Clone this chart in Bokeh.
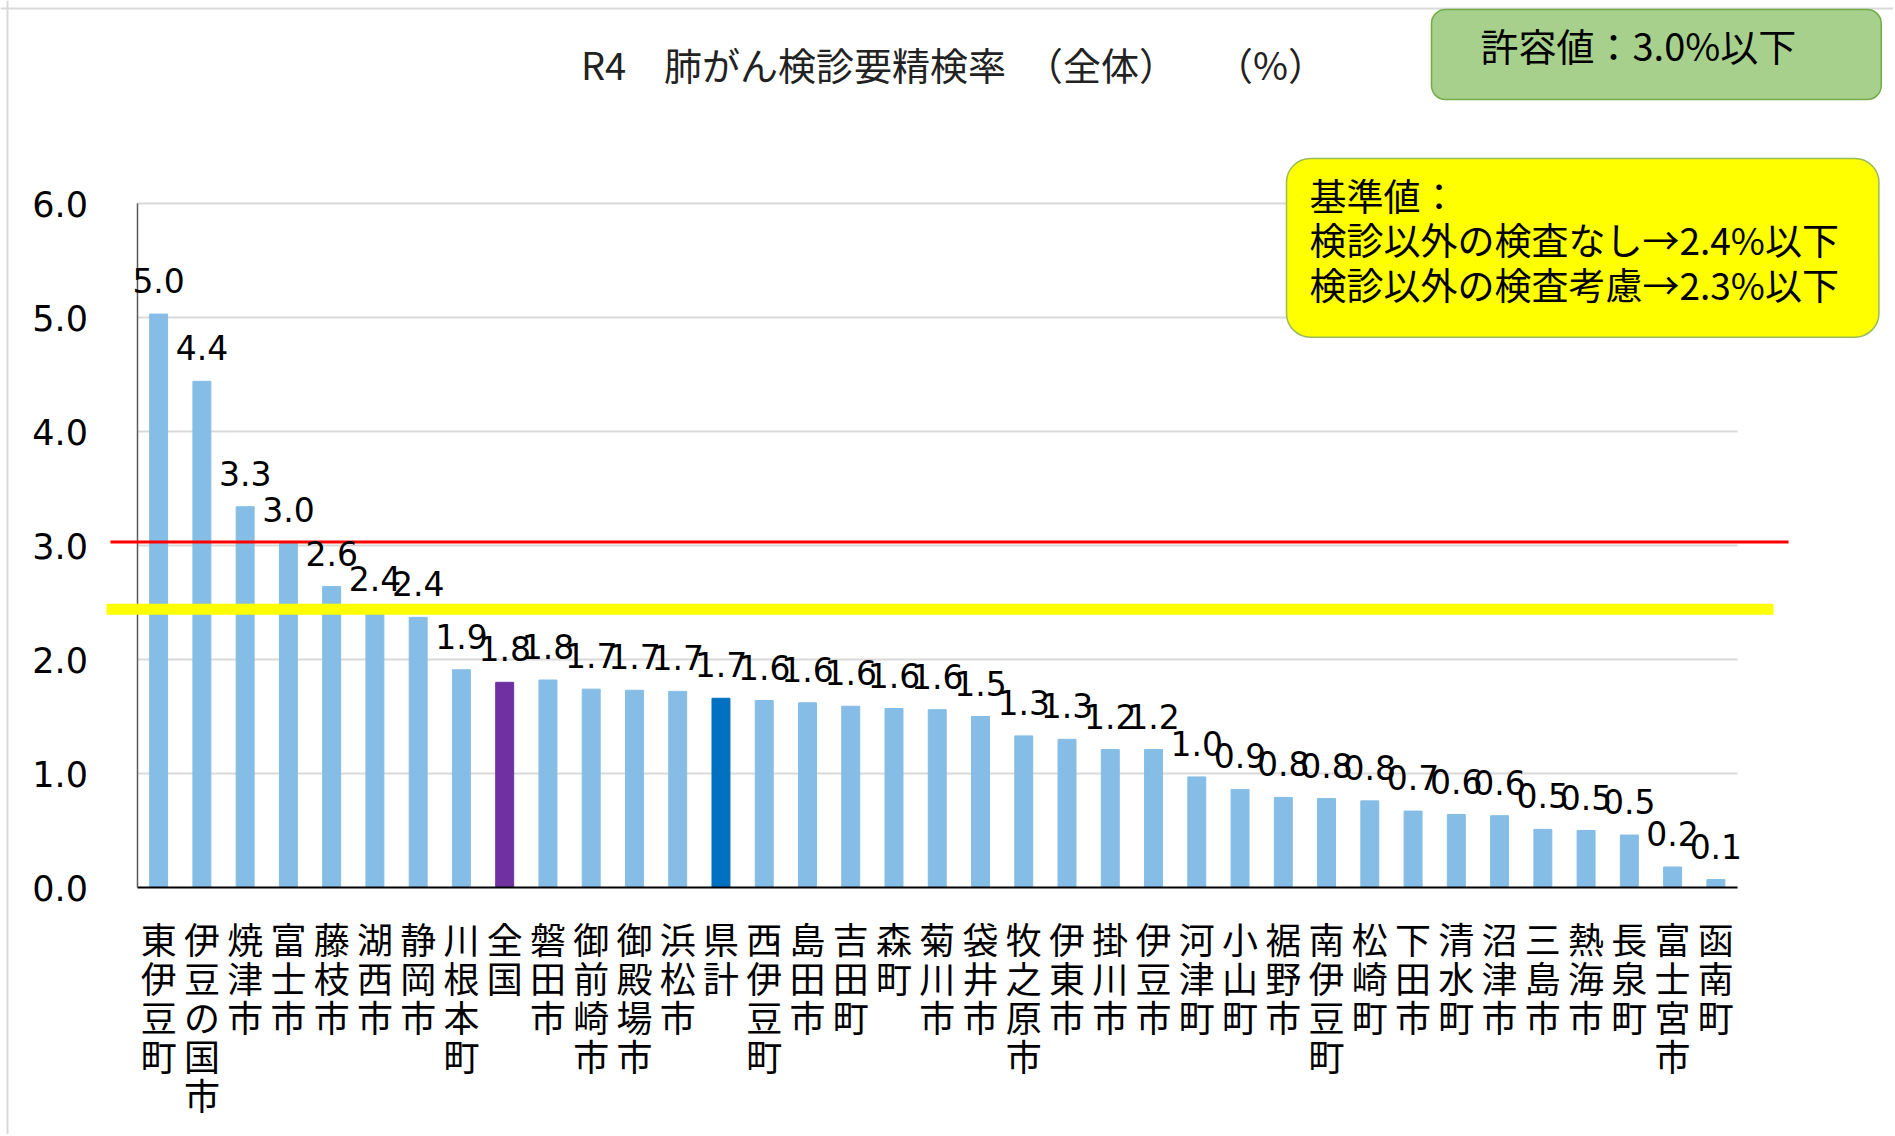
from bokeh.plotting import figure
from bokeh.models import (Range1d, LabelSet, Label, ColumnDataSource, Arrow, Span,
                          FixedTicker, NumeralTickFormatter, LinearAxis)
from bokeh.core.properties import value
from bokeh.embed import file_html
from bokeh.resources import INLINE

# ---------------- data ----------------
categories = ["東伊豆町", "伊豆の国市", "焼津市", "富士市", "藤枝市", "湖西市", "静岡市",
              "川根本町", "全国", "磐田市", "御前崎市", "御殿場市", "浜松市", "県計",
              "西伊豆町", "島田市", "吉田町", "森町", "菊川市", "袋井市", "牧之原市",
              "伊東市", "掛川市", "伊豆市", "河津町", "小山町", "裾野市", "南伊豆町",
              "松崎町", "下田市", "清水町", "沼津市", "三島市", "熱海市", "長泉町",
              "富士宮市", "函南町"]
rates = [5.03, 4.44, 3.34, 3.02, 2.64, 2.42, 2.37,
         1.91, 1.80, 1.82, 1.74, 1.73, 1.72, 1.66,
         1.64, 1.62, 1.59, 1.57, 1.56, 1.50, 1.33,
         1.30, 1.21, 1.21, 0.97, 0.86, 0.79, 0.78,
         0.76, 0.67, 0.64, 0.63, 0.51, 0.50, 0.46,
         0.18, 0.07]
highlight_colors = {"全国": "#7030A0", "県計": "#0070C0"}
base_color = "#85BDE6"
tolerance_value = 3.03    # 許容値 line as drawn
standard_value = 2.44     # 基準値 line as drawn
y_ticks = [0, 1, 2, 3, 4, 5, 6]
title_text = "R4　肺がん検診要精検率　（全体）　　（%）"
tolerance_text = "許容値：3.0%以下"
standard_text = "基準値：\n検診以外の検査なし→2.4%以下\n検診以外の検査考慮→2.3%以下"

# ---------------- layout helpers (page pixels -> data units) ----------------
W, H = 1893, 1134
OX = OY = 0                      # figure origin on page
AX_L, AX_R = 136.5, 1737.0       # category axis extent on page
AX_0, AX_6 = 887.0, 203.0        # y=0 and y=6 on page
N = len(categories)
PX_X = (AX_R - AX_L) / N
PX_Y = (AX_0 - AX_6) / 6.0


def dx(px):
    return (px - AX_L) / PX_X


def dy(py):
    return (AX_0 - py) / PX_Y


xs = [i + 0.5 for i in range(N)]
colors = [highlight_colors.get(c, base_color) for c in categories]
labels = [f"{v:.1f}" for v in rates]
src = ColumnDataSource(dict(x=xs, rate=rates, color=colors, label=labels))

p = figure(width=W, height=H, title=None,
           x_range=Range1d(dx(OX), dx(OX + W)), y_range=Range1d(dy(OY + H), dy(OY)),
           x_axis_type=None, y_axis_type=None, output_backend="svg",
           toolbar_location=None, min_border=0)
p.outline_line_color = None
p.background_fill_color = "white"
p.border_fill_color = "white"

# gridlines (drawn from tick values)
grid_y = [t for t in y_ticks if t > 0]
p.segment(x0=[0] * len(grid_y), x1=[N] * len(grid_y), y0=grid_y, y1=grid_y,
          line_color="#D9D9D9", line_width=2)

p.vbar(x="x", top="rate", width=0.415, color="color", source=src)

# y axis
yaxis = LinearAxis(fixed_location=0, bounds=(0, 6), ticker=FixedTicker(ticks=y_ticks),
                   formatter=NumeralTickFormatter(format="0.0"))
yaxis.major_label_text_font = "DejaVu Sans"
yaxis.major_label_text_font_size = "35px"
yaxis.major_label_text_color = "black"
yaxis.major_label_standoff = 49
yaxis.major_tick_out = 0
yaxis.major_tick_in = 0
yaxis.minor_tick_line_color = None
yaxis.axis_line_color = "#595959"
yaxis.axis_line_width = 1.5
p.add_layout(yaxis, "left")

# x axis (category names stacked vertically)
overrides = {}
for x, c in zip(xs, categories):
    overrides[x] = "\n".join(c)
    overrides[str(x)] = "\n".join(c)
xaxis = LinearAxis(fixed_location=0, bounds=(0, N), ticker=FixedTicker(ticks=xs),
                   major_label_overrides=overrides)
xaxis.major_label_text_font = "Noto Sans CJK JP"
xaxis.major_label_text_font_size = "36px"
xaxis.major_label_text_color = "black"
xaxis.major_label_text_line_height = 0.753
xaxis.major_label_standoff = 24
xaxis.major_label_orientation = "horizontal"
xaxis.major_tick_out = 0
xaxis.major_tick_in = 0
xaxis.minor_tick_line_color = None
xaxis.axis_line_color = "black"
xaxis.axis_line_width = 2
p.add_layout(xaxis, "below")

# chart border (top / left)
p.add_layout(Span(location=dy(8), dimension="width", line_color="#D9D9D9", line_width=2))
p.add_layout(Span(location=dx(7), dimension="height", line_color="#D9D9D9", line_width=2))

# reference lines
p.add_layout(Arrow(end=None, x_start=dx(106), x_end=dx(1773), y_start=standard_value,
                   y_end=standard_value, line_color="#FFFF00", line_width=11))
p.add_layout(Arrow(end=None, x_start=dx(110), x_end=dx(1788), y_start=tolerance_value,
                   y_end=tolerance_value, line_color="#FF0000", line_width=3))

# data labels
p.add_layout(LabelSet(x="x", y="rate", text="label", source=src, y_offset=21,
                      text_align="center", text_baseline="alphabetic",
                      text_font=value("DejaVu Sans"), text_font_size="33px",
                      text_color="black"))

# title
p.add_layout(Label(x=dx(953), y=dy(63), text=title_text, text_align="center",
                   text_baseline="middle", text_font="Noto Sans CJK JP",
                   text_font_size="38px", text_color="#222222"))

# boxes
p.add_layout(Label(x=dx(1431), y=dy(9), text=tolerance_text, anchor="top_left",
                   text_align="left", text_baseline="top",
                   text_font="Noto Sans CJK JP", text_font_size="38px",
                   text_line_height=1.0,
                   text_color="black", background_fill_color="#A8D08D",
                   border_line_color="#70AD47", border_line_width=1.5,
                   border_radius=14,
                   padding=dict(left=49, right=85, top=7, bottom=28)))
p.add_layout(Label(x=dx(1286), y=dy(158), text=standard_text, anchor="top_left",
                   text_align="left", text_baseline="top",
                   text_font="Noto Sans CJK JP", text_font_size="37px",
                   text_line_height=0.83,
                   text_color="black", background_fill_color="#FFFF00",
                   border_line_color="#9BBB59", border_line_width=1.5,
                   border_radius=24,
                   padding=dict(left=23, right=40, top=9, bottom=26)))

open("out.html", "w").write(file_html(p, INLINE))
